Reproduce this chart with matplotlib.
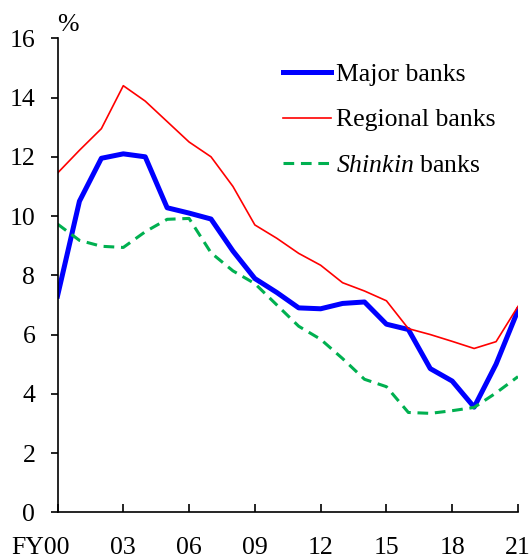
import numpy as np
import matplotlib
matplotlib.use("Agg")
import matplotlib.pyplot as plt
import matplotlib.transforms as mtransforms

plt.rcParams['font.family'] = ['Liberation Serif', 'DejaVu Serif']
plt.rcParams['mathtext.fontset'] = 'custom'
plt.rcParams['mathtext.rm'] = 'Liberation Serif'
plt.rcParams['mathtext.it'] = 'Liberation Serif:italic'

years = np.arange(0, 22)  # FY2000 .. FY2021
major = [7.3, 10.5, 11.95, 12.1, 12.0, 10.28, 10.1, 9.9, 8.82, 7.89, 7.42, 6.9,
         6.87, 7.05, 7.1, 6.35, 6.17, 4.85, 4.43, 3.55, 5.0, 6.82]
regional = [11.45, 12.22, 12.95, 14.4, 13.88, 13.19, 12.5, 12.0, 11.0, 9.7, 9.25, 8.74,
            8.34, 7.75, 7.47, 7.14, 6.2, 6.0, 5.77, 5.53, 5.76, 6.95]
shinkin = [9.73, 9.18, 8.98, 8.94, 9.47, 9.89, 9.92, 8.76, 8.15, 7.72, 7.0, 6.28,
           5.84, 5.19, 4.49, 4.24, 3.37, 3.34, 3.43, 3.54, 4.03, 4.58]
xticks = [0, 3, 6, 9, 12, 15, 18, 21]
xticklabels = ['FY00', '03', '06', '09', '12', '15', '18', '21']
yticks = [0, 2, 4, 6, 8, 10, 12, 14, 16]

fs = 18.5
fig = plt.figure(figsize=(5.31, 5.56), dpi=100)
ax = fig.add_axes([0.1083, 0.0786, 0.9755 - 0.1083, 0.9311 - 0.0786])

ax.plot(years, major, color='#0000FF', lw=3.6, label='Major banks', solid_joinstyle='round')
ax.plot(years, regional, color='#FF0000', lw=1.2, label='Regional banks')
ax.plot(years, shinkin, color='#00B050', lw=2.2, ls=(0, (3.5, 2.2)), label=r'$\it{Shinkin}$ banks')

ax.set_xlim(0, 21)
ax.set_ylim(0, 16)
ax.set_xticks(xticks)
ax.set_xticklabels(xticklabels, fontsize=fs)
ax.set_yticks(yticks)
ax.set_yticklabels([str(v) for v in yticks], fontsize=fs)
ax.tick_params(axis='x', direction='in', length=5.5, width=1.2, pad=18)
ax.tick_params(axis='y', direction='out', length=5, width=1.2, pad=11)

# "FY" hangs off to the left of the first tick
lab0 = ax.get_xticklabels()[0]
lab0.set_horizontalalignment('right')
lab0.set_transform(lab0.get_transform() + mtransforms.ScaledTranslation(9 / 72, 0, fig.dpi_scale_trans))

for side in ['top', 'right']:
    ax.spines[side].set_visible(False)
for side in ['left', 'bottom']:
    ax.spines[side].set_linewidth(1.2)

ax.text(0, 1.005, '%', transform=ax.transAxes, fontsize=fs, ha='left', va='bottom')

ax.legend(loc='upper left', bbox_to_anchor=(0.49, 0.947), frameon=False, fontsize=fs,
          handlelength=1.85, handletextpad=0.2, labelspacing=0.86, borderaxespad=0,
          borderpad=0)

fig.savefig('out.png', dpi=100)
